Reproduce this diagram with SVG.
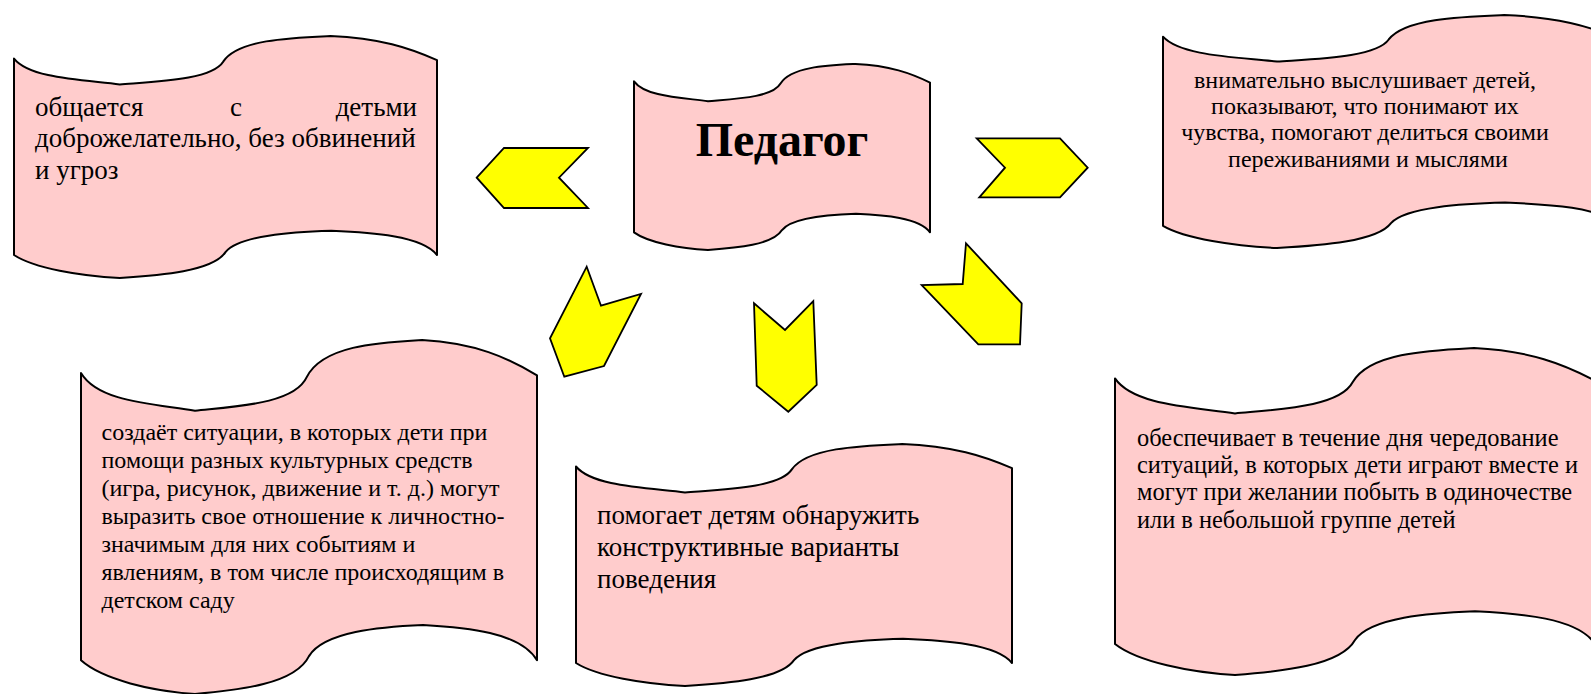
<svg xmlns="http://www.w3.org/2000/svg" width="1591" height="694" viewBox="0 0 1591 694">
<defs>
<path id="tape" vector-effect="non-scaling-stroke" d="M0,9.3 C3.8,17.5 15.8,18 25,20 C34.4,18.7 46.8,18 49.5,10.5 C53,1.4 65.7,0.7 74.8,0 C86.4,0.8 93.6,5 100,10 L100,90.5 C96.4,82.5 84.4,81.2 75,80.5 C65.6,81 53.3,82.4 50,89.3 C47,97.2 34.7,98.9 25,100 C15.7,99.2 4.8,96 0,90.5 Z"/>
</defs>
<style>
.shape{fill:#FFCCCC;stroke:#000;stroke-width:2;stroke-linejoin:round}
.arrow{fill:#FFFF00;stroke:#000;stroke-width:1.8;stroke-linejoin:miter}
.t{font-family:"Liberation Serif","Times New Roman",serif;fill:#000}
.t27{font-size:27px}
.t24{font-size:24px}
.t244{font-size:24.4px}
.title{font-size:48px;font-weight:bold}
</style>
<rect width="1591" height="694" fill="#fff"/>
<g id="node-left-top">
<use href="#tape" class="shape" transform="translate(14,36) scale(4.23,2.42)"/>
<text class="t t27" x="35" y="116">общается</text>
<text class="t t27" x="230" y="116">с</text>
<text class="t t27" x="417" y="116" text-anchor="end">детьми</text>
<text class="t t27" x="35" y="147.3">доброжелательно, без обвинений</text>
<text class="t t27" x="35" y="178.6">и угроз</text>
</g>
<g id="node-center">
<use href="#tape" class="shape" transform="translate(634,64) scale(2.96,1.86)"/>
<text class="t title" x="782" y="156" text-anchor="middle">Педагог</text>
</g>
<g id="node-right-top">
<use href="#tape" class="shape" transform="translate(1163,15) scale(4.56,2.33)"/>
<text class="t t24" text-anchor="middle">
<tspan x="1368" y="87.5">внимательно выслушивает детей,</tspan>
<tspan x="1368" y="113.9">показывают, что понимают их</tspan>
<tspan x="1368" y="140.3">чувства, помогают делиться своими</tspan>
<tspan x="1368" y="166.7">переживаниями и мыслями</tspan>
</text>
</g>
<g id="node-left-bottom">
<use href="#tape" class="shape" transform="translate(81,340) scale(4.56,3.54)"/>
<text class="t t24">
<tspan x="101.5" y="439.5">создаёт ситуации, в которых дети при</tspan>
<tspan x="101.5" y="467.6">помощи разных культурных средств</tspan>
<tspan x="101.5" y="495.7">(игра, рисунок, движение и т. д.) могут</tspan>
<tspan x="101.5" y="523.8">выразить свое отношение к личностно-</tspan>
<tspan x="101.5" y="551.9">значимым для них событиям и</tspan>
<tspan x="101.5" y="580">явлениям, в том числе происходящим в</tspan>
<tspan x="101.5" y="608.1">детском саду</tspan>
</text>
</g>
<g id="node-middle-bottom">
<use href="#tape" class="shape" transform="translate(576,444) scale(4.36,2.42)"/>
<text class="t t27">
<tspan x="597" y="524">помогает детям обнаружить</tspan>
<tspan x="597" y="556">конструктивные варианты</tspan>
<tspan x="597" y="587.5">поведения</tspan>
</text>
</g>
<g id="node-right-bottom">
<use href="#tape" class="shape" transform="translate(1115,348) scale(4.8,3.27)"/>
<text class="t t244">
<tspan x="1137" y="445.5">обеспечивает в течение дня чередование</tspan>
<tspan x="1137" y="472.8">ситуаций, в которых дети играют вместе и</tspan>
<tspan x="1137" y="500.1">могут при желании побыть в одиночестве</tspan>
<tspan x="1137" y="527.5">или в небольшой группе детей</tspan>
</text>
</g>
<g id="connectors">
<polygon class="arrow" points="476.7,177.7 504,148 588,148 559,177.7 588,208 504,208"/>
<polygon class="arrow" points="976.7,138.3 1060,138.3 1087.7,167.7 1060,197.3 979.3,197.3 1005,167.7"/>
<polygon class="arrow" points="586.7,266.7 601,305.7 641,294 604,366 564.3,376.7 550,338.3"/>
<polygon class="arrow" points="754,303.3 785,330 813.3,301 816.7,385 788.3,411.7 756.7,385.7"/>
<polygon class="arrow" points="966,243.3 962.7,284 921.7,285 978.3,344.3 1020,344.3 1021.7,303.3"/>
</g>
</svg>
